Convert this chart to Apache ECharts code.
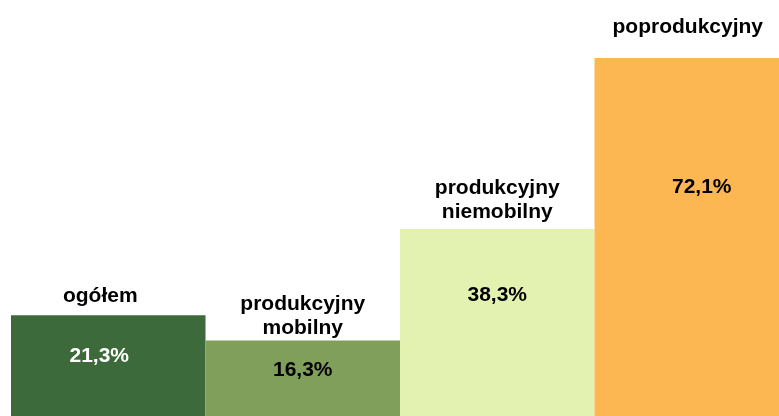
<!DOCTYPE html>
<html>
<head>
<meta charset="utf-8">
<script src="https://cdn.jsdelivr.net/npm/echarts@6/dist/echarts.min.js"></script>
<style>
  html, body { margin: 0; padding: 0; background: #fff; }
  #chart { width: 779px; height: 416px; }
</style>
</head>
<body>
<div id="chart"></div>
<script>
var categories = ['ogółem', 'produkcyjny\nmobilny', 'produkcyjny\nniemobilny', 'poprodukcyjny'];
var values = [21.3, 16.3, 38.3, 72.1];

// kolory i rozmieszczenie etykiet
var colors = ['#3D6A3A', '#809F5B', '#E4F2B1', '#FDB752'];
var valueColors = ['#ffffff', '#000000', '#000000', '#000000'];
var valueLabelPos = [[-9, 41], [0, 30], [0, 66], [10, 129]];
var nameLabelPos = [[-8, -19], [0, -24], [0, -29], [-4, -31]];

var myChart = echarts.init(document.getElementById('chart'));

var barData = values.map(function (v, i) {
    return {
        value: v,
        itemStyle: { color: colors[i] },
        label: {
            color: valueColors[i],
            position: ['50%', valueLabelPos[i][1]],
            offset: [valueLabelPos[i][0], 0]
        }
    };
});

var nameData = values.map(function (v, i) {
    return {
        value: v,
        label: {
            position: ['50%', nameLabelPos[i][1]],
            offset: [nameLabelPos[i][0], 0]
        }
    };
});

var option = {
    backgroundColor: '#ffffff',
    animation: false,
    grid: {
        left: 11,
        right: -10,
        top: 18,
        bottom: -7,
        outerBoundsMode: 'none'
    },
    xAxis: {
        type: 'category',
        data: categories,
        show: false
    },
    yAxis: {
        type: 'value',
        min: 0,
        max: 80,
        show: false
    },
    series: [{
        type: 'bar',
        data: barData,
        barCategoryGap: 0,
        barGap: '-100%',
        silent: true,
        label: {
            show: true,
            align: 'center',
            verticalAlign: 'middle',
            fontFamily: 'Liberation Sans, Arial, sans-serif',
            fontWeight: 'bold',
            fontSize: 21,
            formatter: function (p) {
                return String(p.value).replace('.', ',') + '%';
            }
        }
    }, {
        type: 'bar',
        data: nameData,
        barCategoryGap: 0,
        barGap: '-100%',
        silent: true,
        itemStyle: { color: 'rgba(0,0,0,0)' },
        label: {
            show: true,
            align: 'center',
            verticalAlign: 'middle',
            color: '#000000',
            fontFamily: 'Liberation Sans, Arial, sans-serif',
            fontWeight: 'bold',
            fontSize: 21,
            lineHeight: 24,
            formatter: function (p) {
                return categories[p.dataIndex];
            }
        }
    }]
};

myChart.setOption(option);
window.addEventListener('resize', function () {
    myChart.resize();
});
</script>
</body>
</html>
